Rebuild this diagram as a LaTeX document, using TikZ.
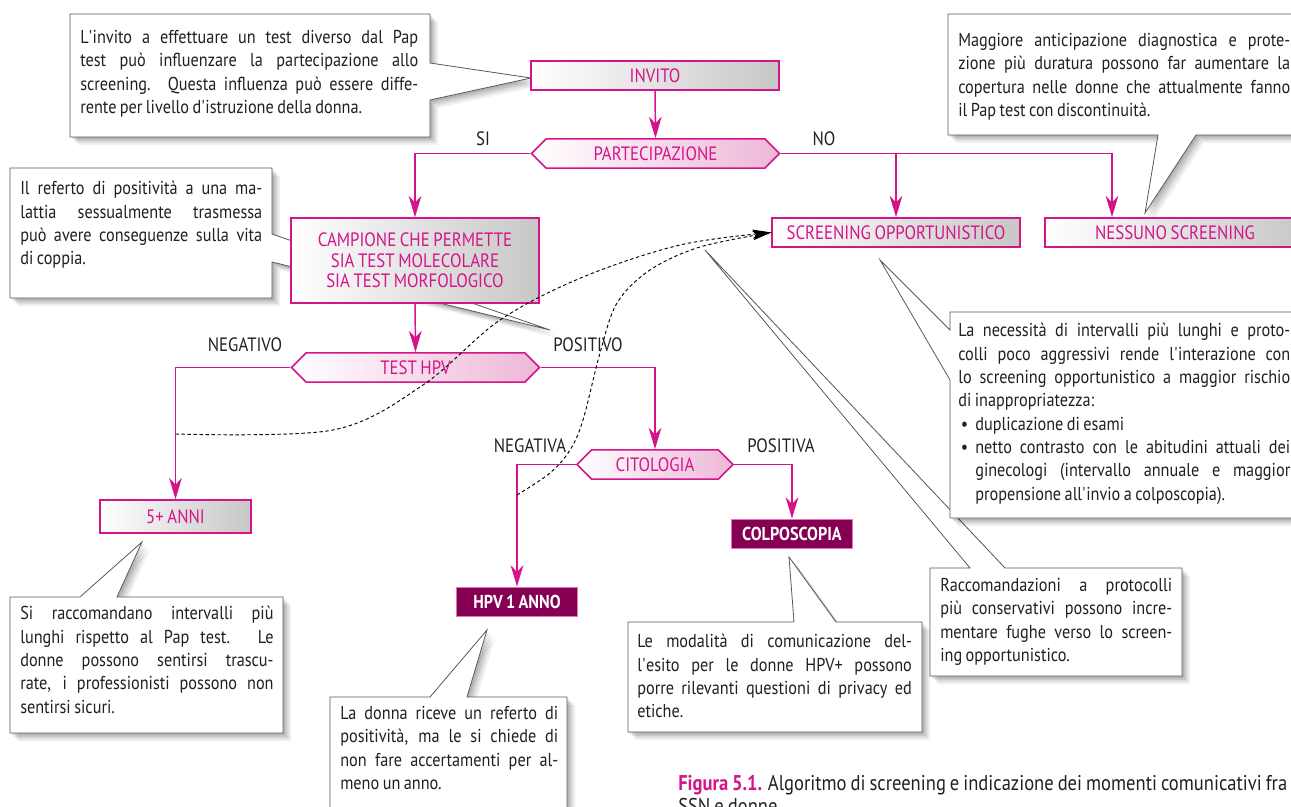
\documentclass[tikz,border=0pt]{standalone}
\usepackage{fontspec}
\setmainfont{PT Sans}[FakeStretch=0.87, WordSpace={0.8,1.2,1.5}]
\usetikzlibrary{arrows.meta,shapes.symbols,shadows,backgrounds}

\definecolor{mag}{RGB}{213,20,137}
\definecolor{plum}{RGB}{133,0,83}
\definecolor{blush}{RGB}{237,183,215}
\definecolor{ink}{RGB}{35,31,32}

\newcommand\ap{\textquotesingle}
\newcommand\dotitem{\par\hangindent=12.75pt\hangafter=1\noindent\makebox[12.75pt][l]{\hspace{2pt}\textbullet}}

\tikzset{
  txt/.style={font=\fontsize{14.5}{15.5}\selectfont},
  grayBox/.style={txt, draw=mag, line width=1.1pt, left color=white, right color=black!22,
    text=mag, minimum height=22pt, inner sep=0pt},
  hexBox/.style={txt, shape=signal, signal to=west and east, draw=mag, line width=1.1pt,
    left color=white, right color=blush, text=mag, minimum height=22pt, inner sep=0pt},
  darkBox/.style={font=\fontsize{14}{15.5}\selectfont\bfseries, draw=mag!60, line width=1.1pt,
    fill=plum, text=white, minimum height=22pt, inner sep=0pt},
  lbl/.style={txt, text=ink},
  flow/.style={draw=mag, line width=1.1pt, -{Stealth[length=16pt,width=9.5pt,inset=5pt]}},
  dashline/.style={draw=black, line width=.7pt, dash pattern=on 2.5pt off 2pt,
    -{Stealth[length=14pt,width=7pt,inset=3pt]}},
  soft shadow/.style={
    drop shadow={shadow xshift=1.5pt, shadow yshift=-1.5pt, opacity=.1, fill=black},
    drop shadow={shadow xshift=3pt, shadow yshift=-3pt, opacity=.1, fill=black},
    drop shadow={shadow xshift=4.5pt, shadow yshift=-4.5pt, opacity=.08, fill=black},
    drop shadow={shadow xshift=6pt, shadow yshift=-6pt, opacity=.06, fill=black}},
  bubble/.style={draw=black!65, line width=.6pt, fill=white, soft shadow},
  noteText/.style={font=\fontsize{14}{17.5}\selectfont, text=ink, text width=#1, align=justify,
    inner sep=0pt, anchor=north west, execute at begin node={\tolerance=10000\hbadness=10000}}
}

\begin{document}
\begin{tikzpicture}[x=0.75pt, y=-0.75pt]
\useasboundingbox (0,0) rectangle (1291,806);

% flow chart
\node[grayBox, minimum width=186pt] (nInvito) at (655,75.5) {INVITO};
\node[hexBox, minimum width=186pt] (nPart) at (655.5,153.5) {PARTECIPAZIONE};
\node[grayBox, minimum width=186pt, minimum height=63.75pt, align=center] (nCamp) at (415,260.5)
  {CAMPIONE CHE PERMETTE\\SIA TEST MOLECOLARE\\SIA TEST MORFOLOGICO};
\node[grayBox, minimum width=186pt] (nScrOpp) at (896,232.5) {SCREENING OPPORTUNISTICO};
\node[grayBox, minimum width=195pt] (nNess) at (1175,232.5) {NESSUNO SCREENING};
\node[hexBox, minimum width=186pt] (nTest) at (415.5,367.5) {TEST HPV};
\node[hexBox, minimum width=117pt] (nCito) at (655,464.5) {CITOLOGIA};
\node[grayBox, minimum width=113pt, minimum height=24.75pt] (nFive) at (175.5,516.5) {5+ ANNI};
\node[darkBox, minimum width=91pt] (nHpv) at (517,602) {HPV 1 ANNO};
\node[darkBox, minimum width=91pt] (nColpo) at (792,534) {COLPOSCOPIA};

\node[lbl] (lSi) at (483,139) {SI};
\node[lbl] (lNo) at (824,139) {NO};
\node[lbl] (lNegTest) at (245,345) {NEGATIVO};
\node[lbl] (lPosTest) at (588,345) {POSITIVO};
\node[lbl] (lNegCit) at (530,446) {NEGATIVA};
\node[lbl] (lPosCit) at (781,446) {POSITIVA};

\draw[flow] (nInvito.south) -- (nPart.north);
\draw[flow] (nPart.west) -| (nCamp.north);
\draw[flow] (nPart.east) -| (nScrOpp.north);
\draw[flow] (nPart.east) -| ([xshift=-47.25pt]nNess.north);
\draw[flow] (nCamp.south) -- (nTest.north);
\draw[flow] (nTest.west) -| (nFive.north);
\draw[flow] (nTest.east) -| (nCito.north);
\draw[flow] (nCito.west) -| (nHpv.north);
\draw[flow] (nCito.east) -| (nColpo.north);

% dashed returns to opportunistic screening
\coordinate (dA) at (nFive.north |- 0,434);
\coordinate (dB) at (nHpv.north |- 0,495);
\draw[dashline] plot[smooth, tension=.55] coordinates
  {(dA) (333,430) (423,385) (500,320) (583,277) (680,245) (nScrOpp.west)};
\draw[dashline] plot[smooth, tension=.55] coordinates
  {(dB) (550,473) (570,450) (583,420) (600,353) (617,303) (650,270) (700,247) (nScrOpp.west)};

% callouts
\begin{scope}[on background layer]
  \draw[bubble] (70,14) -- (430,14) -- (430,63) -- (531,78) -- (430,100) -- (430,137) -- (70,137) -- cycle;
  \draw[bubble] (10,168) -- (272,168) -- (272,234) -- (550,330) -- (272,262) -- (272,298) -- (10,298) -- cycle;
  \draw[bubble] (948,14) -- (1300,14) -- (1300,135) -- (1196,135) -- (1145,213) -- (1158,135) -- (948,135) -- cycle;
  \draw[bubble] (930,568) -- (970,568) -- (705,250) -- (1005,568) -- (1182,568) -- (1182,676) -- (930,676) -- cycle;
  \draw[bubble] (950,312) -- (1300,312) -- (1300,518) -- (950,518) -- (950,380) -- (880,260) -- (950,330) -- cycle;
  \draw[bubble] (628,622) -- (794,622) -- (789,557) -- (836,622) -- (922,622) -- (922,732) -- (628,732) -- cycle;
  \draw[bubble] (10,597) -- (80,597) -- (142,542) -- (117,597) -- (283,597) -- (283,733) -- (10,733) -- cycle;
  \draw[bubble] (330,697) -- (430,697) -- (487,630) -- (467,697) -- (567,697) -- (567,820) -- (330,820) -- cycle;
\end{scope}

\node[noteText=253.5pt] (cInvito) at (80,30) {L\ap invito a effettuare un test diverso dal Pap\linebreak
  test può influenzare la partecipazione allo\linebreak screening. Questa influenza può essere diffe-\linebreak
  rente per livello d\ap istruzione della donna.};
\node[noteText=181.5pt] (cReferto) at (20,181) {Il referto di positività a una ma-\linebreak
  lattia sessualmente trasmessa\linebreak può avere conseguenze sulla vita\linebreak di coppia.};
\node[noteText=249pt] (cMaggiore) at (958,33) {Maggiore anticipazione diagnostica e prote-\linebreak
  zione più duratura possono far aumentare la\linebreak copertura nelle donne che attualmente fanno\linebreak
  il Pap test con discontinuità.};
\node[noteText=249pt] (cNecess) at (958,323) {La necessità di intervalli più lunghi e proto-\linebreak
  colli poco aggressivi rende l\ap interazione con\linebreak lo screening opportunistico a maggior rischio\linebreak
  di inappropriatezza:\dotitem duplicazione di esami\dotitem netto contrasto con le abitudini attuali dei\linebreak
  ginecologi (intervallo annuale e maggior\linebreak propensione all\ap invio a colposcopia).\par};
\node[noteText=174pt] (cRacc) at (940,578) {Raccomandazioni a protocolli\linebreak più conservativi possono incre-\linebreak
  mentare fughe verso lo screen-\linebreak ing opportunistico.};
\node[noteText=206pt] (cModal) at (637,634) {Le modalità di comunicazione del-\linebreak
  l\ap esito per le donne HPV+ possono\linebreak porre rilevanti questioni di privacy ed\linebreak etiche.};
\node[noteText=190pt] (cIntervalli) at (20,606) {Si raccomandano intervalli più\linebreak
  lunghi rispetto al Pap test. Le\linebreak donne possono sentirsi trascu-\linebreak
  rate, i professionisti possono non\linebreak sentirsi sicuri.};
\node[noteText=163.5pt] (cDonna) at (340,706) {La donna riceve un referto di\linebreak
  positività, ma le si chiede di\linebreak non fare accertamenti per al-\linebreak meno un anno.};

\node[anchor=north west, font=\fontsize{16}{17.25}\selectfont, text=ink, align=left, inner sep=0pt] (caption)
  at (678,775) {{\color{mag}\bfseries Figura 5.1.} Algoritmo di screening e indicazione dei momenti comunicativi fra\\
  SSN e donne.};
\end{tikzpicture}
\end{document}
